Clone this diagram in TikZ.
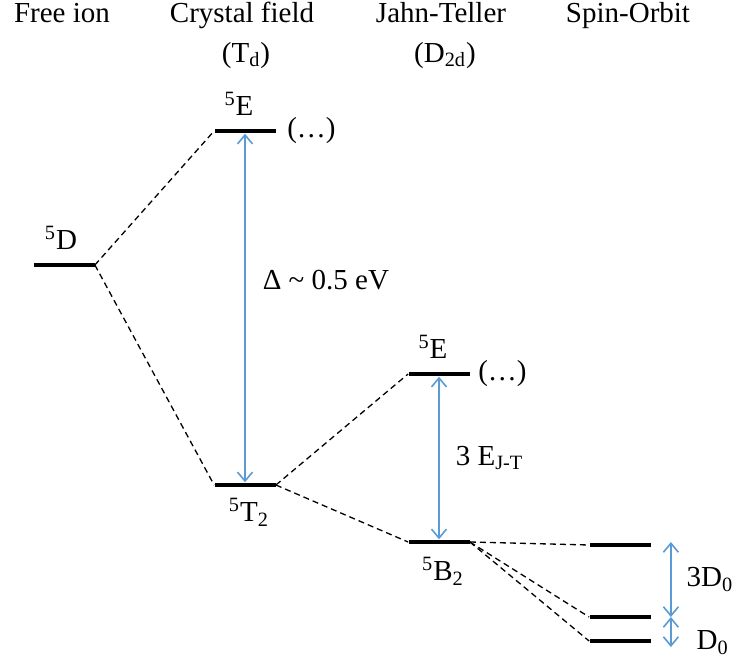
\documentclass[tikz,border=0pt]{standalone}
\usepackage{fontspec}
\setmainfont{Liberation Serif}
\usepackage{xcolor}
\usetikzlibrary{arrows.meta, positioning}

\definecolor{splitblue}{RGB}{91,155,213}

\begin{document}
\begin{tikzpicture}[
    x=0.5pt,
    y=-0.5pt,
    font=\fontsize{14.5}{17}\selectfont,
    level/.style={
        rectangle,
        fill=black,
        inner sep=0pt,
        minimum width=30.5pt,
        minimum height=2.3pt
    },
    state/.style={
        inner sep=1pt
    },
    header/.style={
        anchor=base,
        inner sep=0pt
    },
    link/.style={
        dash pattern=on 3pt off 2pt,
        line width=0.65pt
    },
    gap/.style={
        draw=splitblue,
        line width=0.8pt,
        {Straight Barb[length=4.5pt,width=7.5pt]}-{Straight Barb[length=4.5pt,width=7.5pt]}
    }
]
    \useasboundingbox (0,0) rectangle (733,664);

    % Column headers
    \node [header] (hdFree) at (62,23) {Free ion};
    \node [header] (hdCF) at (242,23) {Crystal field};
    \node [header] (hdCFsym) at (246,62) {(T\textsubscript{d})};
    \node [header] (hdJT) at (441,23) {Jahn-Teller};
    \node [header] (hdJTsym) at (445,62) {(D\textsubscript{2d})};
    \node [header] (hdSO) at (628,23) {Spin-Orbit};

    % Level 1: Free ion
    \node [level] (fiD) at (64,265) {};
    \node [state, above=5pt of fiD, xshift=-1.5pt] (lbD) {\textsuperscript{5}D};

    % Level 2: Crystal field
    \node [level] (cfE) at (245,131) {};
    \node [state, above=5pt of cfE, xshift=-3pt] (lbcfE) {\textsuperscript{5}E};
    \node [state, right=4.5pt of cfE] (dotscfE) {(\dots)};
    \node [level] (cfT) at (245,485) {};
    \node [state, below=4pt of cfT, xshift=2pt] (lbcfT) {\textsuperscript{5}T\textsubscript{2}};

    % Level 3: Jahn-Teller
    \node [level] (jtE) at (439,374) {};
    \node [state, above=5pt of jtE, xshift=-3pt] (lbjtE) {\textsuperscript{5}E};
    \node [state, right=3pt of jtE] (dotsjtE) {(\dots)};
    \node [level] (jtB) at (439,542) {};
    \node [state, below=5pt of jtB, xshift=2pt] (lbjtB) {\textsuperscript{5}B\textsubscript{2}};

    % Level 4: Spin-Orbit
    \node [level] (soA) at (620,545) {};
    \node [level] (soB) at (620,617) {};
    \node [level] (soC) at (620,641) {};

    % Connections
    \draw [link] (fiD.east) -- (cfE.west);
    \draw [link] (fiD.east) -- (cfT.west);
    \draw [link] (cfT.east) -- (jtE.west);
    \draw [link] (cfT.east) -- (jtB.west);
    \draw [link] (jtB.east) -- (soA.west);
    \draw [link] (jtB.east) -- (soB.west);
    \draw [link] (jtB.east) -- (soC.west);

    % Splittings
    \draw [gap] (cfE.south) -- (cfT.north)
        node [state, pos=0.42, right=7.5pt] (lbDelta) {Δ \textasciitilde{} 0.5 eV};
    \draw [gap] (jtE.south) -- (jtB.north)
        node [state, midway, right=7pt] (lbEjt) {3 E\textsubscript{J-T}};
    \draw [gap] ([xshift=10pt,yshift=1.5pt]soA.east) -- ([xshift=10pt]soB.east)
        node [state, midway, right=6.5pt] (lbThree) {3D\textsubscript{0}};
    \draw [gap] ([xshift=10pt]soB.east) -- ([xshift=10pt,yshift=-3pt]soC.east)
        node [state, pos=0.85, right=11.5pt] (lbOne) {D\textsubscript{0}};

\end{tikzpicture}
\end{document}
